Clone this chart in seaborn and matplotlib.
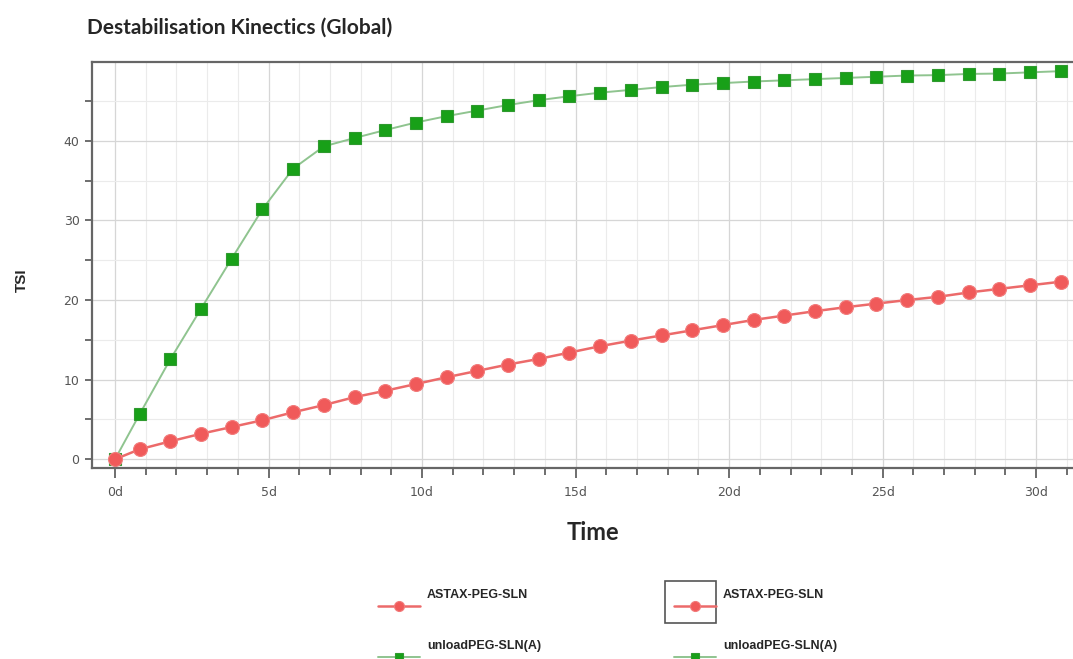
import matplotlib
matplotlib.use("Agg")
import matplotlib.pyplot as plt
import seaborn as sns
import pandas as pd
from matplotlib.ticker import MultipleLocator, FuncFormatter
from matplotlib.patches import Rectangle
from matplotlib.transforms import Affine2D

# Measurement times (days)
days = [0.0, 0.8, 1.8, 2.8, 3.8, 4.8, 5.8, 6.8, 7.8, 8.8, 9.8, 10.8, 11.8, 12.8,
        13.8, 14.8, 15.8, 16.8, 17.8, 18.8, 19.8, 20.8, 21.8, 22.8, 23.8, 24.8,
        25.8, 26.8, 27.8, 28.8, 29.8, 30.8]

# Turbiscan stability index per sample
tsi_astax = [0.0, 1.25, 2.25, 3.2, 4.05, 4.9, 5.9, 6.8, 7.8, 8.6, 9.45, 10.3,
             11.1, 11.9, 12.6, 13.4, 14.2, 14.9, 15.55, 16.2, 16.85, 17.5,
             18.05, 18.6, 19.1, 19.55, 20.0, 20.4, 20.95, 21.4, 21.85, 22.3]
tsi_unload = [0.0, 5.65, 12.55, 18.9, 25.2, 31.4, 36.5, 39.3, 40.35, 41.35,
              42.3, 43.1, 43.8, 44.5, 45.1, 45.6, 46.05, 46.4, 46.75, 47.05,
              47.25, 47.45, 47.6, 47.75, 47.9, 48.05, 48.2, 48.25, 48.4, 48.45,
              48.6, 48.75]

label_astax = "ASTAX-PEG-SLN"
label_unload = "unloadPEG-SLN(A)"

df_astax = pd.DataFrame({"day": days, "TSI": tsi_astax})
df_unload = pd.DataFrame({"day": days, "TSI": tsi_unload})

sns.set_theme(style="white")
plt.rcParams["font.family"] = ["DejaVu Sans"]

fig = plt.figure(figsize=(10.73, 6.59), dpi=100)
ax = fig.add_axes([92 / 1073, 1 - 468 / 659, 1 - 92 / 1073, (468 - 62) / 659])

# Grid: a line every day, and every 5 TSI units
ax.xaxis.set_major_locator(MultipleLocator(5))
ax.xaxis.set_minor_locator(MultipleLocator(1))
ax.yaxis.set_major_locator(MultipleLocator(10))
ax.yaxis.set_minor_locator(MultipleLocator(5))
ax.grid(which="major", color="#d6d6d6", linewidth=0.9)
ax.grid(which="minor", color="#ebebeb", linewidth=0.8)
ax.set_axisbelow(True)

sns.lineplot(data=df_unload, x="day", y="TSI", ax=ax, color="#8fc48f",
             linewidth=1.4, marker="s", markersize=8.5,
             markerfacecolor="#18a018", markeredgecolor="#2f9a2f",
             markeredgewidth=0.8, label=label_unload, legend=False)
sns.lineplot(data=df_astax, x="day", y="TSI", ax=ax, color="#ec6a6a",
             linewidth=1.8, marker="o", markersize=10,
             markerfacecolor="#f05a5a", markeredgecolor="#f27c7c",
             markeredgewidth=0.8, label=label_astax, legend=False)

ax.set_xlim(-0.75, 31.2)
ax.set_ylim(-1.1, 49.9)
ax.set_xlabel("")
ax.set_ylabel("")

ax.xaxis.set_major_formatter(FuncFormatter(lambda v, p: f"{int(round(v))}d"))
ax.tick_params(which="both", direction="out", length=5, width=1.2,
               color="#555555", labelcolor="#555555", labelsize=9)
ax.tick_params(axis="x", which="major", length=7, pad=6)
ax.tick_params(axis="x", which="both", bottom=True)
ax.tick_params(axis="y", which="both", left=True, pad=4)

for side in ("left", "bottom", "top"):
    ax.spines[side].set_color("#666666")
    ax.spines[side].set_linewidth(1.6)
ax.spines["right"].set_visible(False)

fig.text(87 / 1073, 1 - 28 / 659, "Destabilisation Kinectics (Global)",
         fontsize=15, fontweight="bold", family="Lato", va="center", ha="left")
fig.text(22 / 1073, 1 - 280 / 659, "TSI", fontsize=11, fontweight="bold",
         family="Liberation Sans", rotation=90, va="center", ha="center")
fig.text(593 / 1073, 1 - 532 / 659, "Time", fontsize=17, fontweight="bold",
         family="Lato", va="center", ha="center")

# Legend: two columns repeating both samples
h_unload, h_astax = ax.get_lines()[0], ax.get_lines()[1]
leg = fig.legend([h_astax, h_unload, h_astax, h_unload],
                 [label_astax, label_unload, label_astax, label_unload],
                 ncol=2, loc="upper left",
                 bbox_to_anchor=(367 / 1073, 1 - 590 / 659),
                 frameon=False, handlelength=3.3, handletextpad=0.6,
                 columnspacing=10.65, labelspacing=3.1, markerscale=0.72,
                 prop={"family": "Liberation Sans", "weight": "bold",
                       "size": 9})
for t in leg.get_texts():
    t.set_transform(t.get_transform() + Affine2D().translate(0, 12))

fig.canvas.draw()
# Box around the first handle of the second column
bb = leg.legend_handles[2].get_window_extent(fig.canvas.get_renderer())
cx = (bb.x0 + bb.x1) / 2
cy = (bb.y0 + bb.y1) / 2
w, h = 51, 42
fig.patches.append(Rectangle(((cx - w / 2 - 4) / 1073, (cy - h / 2 + 4) / 659),
                             w / 1073, h / 659, transform=fig.transFigure,
                             fill=False, edgecolor="#555555", linewidth=1.2))

fig.savefig("out.png", dpi=100)
